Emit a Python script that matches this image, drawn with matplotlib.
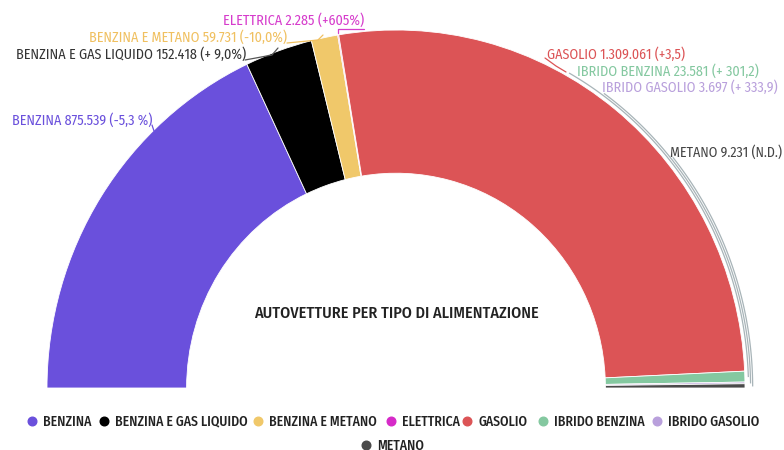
import matplotlib
matplotlib.use("Agg")
import matplotlib.pyplot as plt
import numpy as np
from matplotlib.lines import Line2D

plt.rcParams['font.family'] = ['Fira Sans Condensed', 'Roboto Condensed', 'Lato', 'DejaVu Sans']

categories = ["BENZINA", "BENZINA E GAS LIQUIDO", "BENZINA E METANO", "ELETTRICA",
              "GASOLIO", "IBRIDO BENZINA", "IBRIDO GASOLIO", "METANO"]
values = [875539, 152418, 59731, 2285, 1309061, 23581, 3697, 9231]
labels = ["BENZINA 875.539 (-5,3 %)", "BENZINA E GAS LIQUIDO 152.418 (+ 9,0%)",
          "BENZINA E METANO 59.731 (-10,0%)", "ELETTRICA 2.285 (+605%)",
          "GASOLIO 1.309.061 (+3,5)", "IBRIDO BENZINA 23.581 (+ 301,2)",
          "IBRIDO GASOLIO 3.697 (+ 333,9)", "METANO 9.231 (N.D.)"]
colors = ["#6a50dc", "#000000", "#f0c86a", "#d62ac8", "#dc5456", "#84c8a0", "#b9a0dc", "#4a4a4a"]
label_colors = ["#6a50dc", "#333333", "#f0c060", "#d63ccc", "#dc5456", "#84c8a0", "#b9a0dc", "#444444"]
title = "AUTOVETTURE PER TIPO DI ALIMENTAZIONE"

W, H = 784, 450
CX, CY, RX, RY = 396, 388, 349, 358

fig = plt.figure(figsize=(W / 100, H / 100), dpi=100)
ax = fig.add_axes([0, 0, 1, 1])
renderer = fig.canvas.get_renderer()


def fit(t, target_w):
    w = t.get_window_extent(renderer).width
    t.set_fontsize(t.get_fontsize() * target_w / w)


total = sum(values)
wedges, _ = ax.pie(values + [total], startangle=180, counterclock=False, radius=1,
                   colors=colors + ["none"],
                   wedgeprops=dict(width=0.4, edgecolor="white", linewidth=0.6))
wedges[-1].set_visible(False)
ax.set_aspect("auto")
ax.set_xlim(-CX / RX, (W - CX) / RX)
ax.set_ylim(-(H - CY) / RY, CY / RY)
ax.axis("off")


def px(x, y):
    return (x - CX) / RX, (CY - y) / RY


cum = np.cumsum([0] + values)
start_ang = 180 - 180 * cum[:-1] / total
end_ang = 180 - 180 * cum[1:] / total
mid_ang = (start_ang + end_ang) / 2

# label boxes (pixel): (x_left, y_center, width)
label_pos = [(12, 120, 140), (16, 54, 229), (89, 37, 198), (223, 20, 140),
             (547, 54, 138), (577, 71, 181), (602, 87, 175), (670, 152, 112)]

for i, (lab, (lx, ly, lw)) in enumerate(zip(labels, label_pos)):
    t = fig.text(lx / W, 1 - ly / H, lab, color=label_colors[i], fontsize=9,
                 ha="left", va="center")
    fit(t, lw)


def seg(pts, c, lw=0.9):
    xs, ys = zip(*[px(*p) for p in pts])
    ax.plot(xs, ys, color=c, lw=lw, solid_capstyle="round")


seg([(152, 125), (154, 131)], label_colors[0])
seg([(245, 60), (272, 55), (278, 48)], "#555555")
seg([(287, 43), (318, 40), (323, 35)], label_colors[2])
seg([(338, 33), (338, 29), (364, 29)], label_colors[3])
seg([(545, 58), (556, 66), (566, 72)], label_colors[4])

arc_specs = [(5, 60.5, 1.010), (6, 54.0, 1.016), (7, 39.0, 1.022)]
for idx, top_ang, r in arc_specs:
    th = np.radians(np.linspace(mid_ang[idx], top_ang, 100))
    ax.plot(r * np.cos(th), r * np.sin(th), color="#a8b4b8", lw=0.9)

tt = fig.text(CX / W, 1 - 313 / H, title, fontsize=11, fontweight=500, color="#222222",
              ha="center", va="center")
fit(tt, 283)

probe = fig.text(0, 0, categories[1], fontsize=10, fontweight=500)
fit(probe, 133)
leg_fs = probe.get_fontsize()
probe.remove()
f_px = leg_fs * 100 / 72

handles = [Line2D([0], [0], marker="o", linestyle="none", markersize=6.2,
                  markerfacecolor=c, markeredgecolor=c) for c in colors]
common = dict(frameon=False, handletextpad=0.32, handlelength=1.0,
              labelcolor="#222222", borderpad=0, borderaxespad=0,
              prop=dict(size=leg_fs, weight=500))

# one legend entry per box, top-anchored so that all baselines line up
marker_x = [32, 104, 258, 391, 467, 543, 657]
row_top = 420 - 0.405 * f_px
for h, c, mx in zip(handles[:7], categories[:7], marker_x):
    fig.legend([h], [c], loc="upper left",
               bbox_to_anchor=((mx - f_px / 2) / W, 1 - row_top / H), **common)
fig.legend(handles[7:], categories[7:], loc="upper left",
           bbox_to_anchor=((366 - f_px / 2) / W, 1 - (row_top + 24) / H), **common)

fig.savefig("out.png", dpi=100)
